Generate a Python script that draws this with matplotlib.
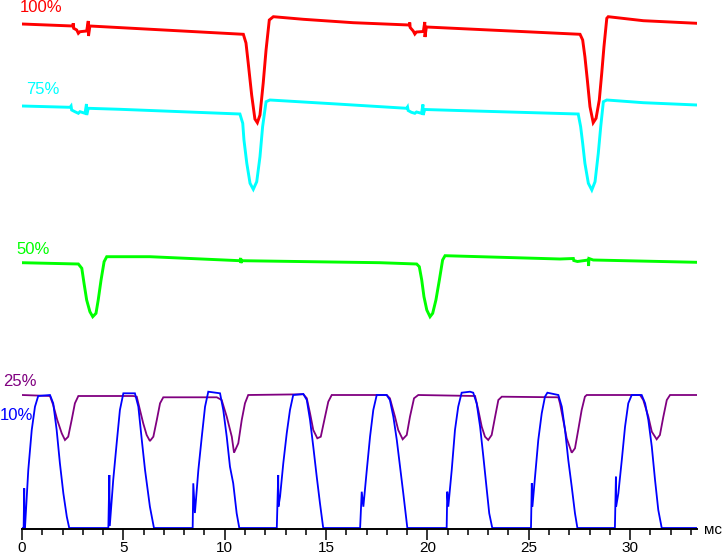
import numpy as np
import matplotlib
matplotlib.use("Agg")
import matplotlib.pyplot as plt
from matplotlib.ticker import MultipleLocator

plt.rcParams["font.family"] = ["Liberation Sans", "DejaVu Sans"]

# ---- traces: time in ms, level in screen units above the time axis ----

red_t = [0, 2.50, 2.53, 2.55, 2.70, 2.78, 2.86, 3.19, 3.27, 3.28, 3.35,
         10.92, 11.05, 11.16, 11.33, 11.49, 11.61, 11.74, 11.90, 12.04, 12.20, 12.40,
         13.88, 16.34, 19.10, 19.13, 19.15, 19.30, 19.38, 19.46, 19.80, 19.87, 19.88, 19.95,
         27.53, 27.66, 27.77, 27.89, 28.02, 28.18, 28.32, 28.48, 28.60, 28.71, 28.85, 28.92,
         30.65, 33.3]
red_v = [504, 502, 504.7, 499.7, 498, 494.7, 496.3, 497, 507, 492, 502,
         493.7, 485, 465, 433, 409, 405.3, 413, 445, 478, 508, 511.3,
         508.7, 505.3, 503, 505.5, 500.5, 497, 494, 496, 496.5, 506, 491, 501,
         493.7, 488, 471.3, 448, 421.3, 405.3, 409.7, 428, 454.7, 481.3, 509.7, 511.3,
         507.3, 504.7]

cyan_t = [0, 2.37, 2.42, 2.45, 2.61, 2.78, 2.86, 3.11, 3.18, 3.19, 3.27, 4.83,
          10.75, 10.89, 10.95, 11.09, 11.25, 11.41, 11.58, 11.74, 11.87, 12.04, 12.23,
          15.53, 18.98, 19.02, 19.05, 19.21, 19.38, 19.46, 19.71, 19.78, 19.79, 19.87, 21.5,
          27.44, 27.56, 27.66, 27.77, 27.94, 28.11, 28.27, 28.43, 28.55, 28.68, 28.85,
          30.65, 33.3]
cyan_v = [422, 420.7, 422, 418, 416.3, 414.7, 416.3, 414.7, 424, 413, 419.7, 418.7,
          414, 404.7, 388, 364.7, 344.7, 338.7, 346.3, 371.3, 401.3, 426.3, 428,
          424, 419.7, 421, 417.5, 415.7, 414.7, 416, 414.7, 423.5, 413, 418.5, 417.5,
          414, 401.3, 384.7, 364.7, 344.7, 338, 346.3, 374.7, 401.3, 426.3, 428,
          425.3, 423]

green_t = [0, 2.78, 2.95, 3.06, 3.19, 3.35, 3.49, 3.65, 3.76, 3.90, 4.05, 4.18,
           6.31, 10.75, 10.79, 10.80, 10.84, 17.66,
           19.47, 19.60, 19.72, 19.83, 19.97, 20.13, 20.26, 20.42, 20.59, 20.75, 20.87,
           22.60, 26.54, 27.20, 27.22, 27.40, 27.94, 27.95, 27.97, 28.18, 33.3]
green_v = [265.3, 264, 259.7, 244.7, 228, 216.3, 211.3, 214.7, 228, 248, 266.3, 271.3,
           271.3, 267.3, 270, 265, 267.3, 265.3,
           264, 261.3, 248, 231.3, 218, 211.3, 214.7, 228, 248, 268, 272.3,
           271.3, 269, 269.5, 267.5, 266.5, 268, 262, 269.5, 268, 265.7]

purple_t = [0, 1.38, 1.54, 1.74, 1.96, 2.12, 2.28, 2.45, 2.61, 2.78,
            5.49, 5.66, 5.82, 5.98, 6.15, 6.31, 6.48, 6.65, 6.81, 6.97,
            9.61, 9.85, 10.10, 10.35, 10.46, 10.67, 10.84, 11.00, 11.16,
            13.88, 14.05, 14.21, 14.37, 14.57, 14.74, 14.95, 15.11, 15.28,
            17.99, 18.15, 18.40, 18.56, 18.78, 18.98, 19.14, 19.34, 19.55,
            22.35, 22.51, 22.68, 22.84, 23.00, 23.17, 23.34, 23.50, 23.67,
            26.46, 26.54, 26.70, 26.87, 27.12, 27.28, 27.44, 27.61, 27.77, 27.86,
            30.49, 30.65, 30.90, 31.07, 31.31, 31.47, 31.64, 31.81, 31.97, 33.3]
purple_v = [133, 132, 123, 108, 94.7, 88, 91.3, 108, 124.7, 132,
            132, 131.3, 118, 104.7, 93, 87, 91.3, 108, 124.7, 130.7,
            130.7, 128, 111.3, 91.3, 75.3, 84.7, 108, 124.7, 133,
            133.7, 129.7, 114.7, 98, 89.7, 91.3, 111.3, 126.3, 133,
            133, 129.7, 111.3, 98, 88.7, 93, 111.3, 129.7, 133,
            132, 118, 101.3, 91.3, 88, 93, 111.3, 128, 131.3,
            130.7, 124.7, 108, 89.7, 75.3, 79.7, 98, 118, 131.3, 133,
            133, 128, 111.3, 96.3, 88.7, 93, 111.3, 128, 133, 133]

blue_t = [0, 0.08, 0.11, 0.12, 0.15, 0.31, 0.48, 0.64, 0.80, 1.38, 1.54, 1.71, 1.87, 2.04, 2.21, 2.33,
          4.26, 4.31, 4.33, 4.50, 4.67, 4.83, 5.00, 5.57, 5.74, 5.91, 6.07, 6.31, 6.51,
          8.42, 8.45, 8.53, 8.70, 8.87, 9.03, 9.19, 9.77, 9.93, 10.10, 10.26, 10.42, 10.59, 10.72,
          12.57, 12.64, 12.65, 12.73, 12.89, 13.06, 13.22, 13.38, 13.88, 14.05, 14.21, 14.37, 14.54, 14.70, 14.86,
          16.68, 16.76, 16.84, 17.01, 17.17, 17.33, 17.50, 17.99, 18.15, 18.32, 18.49, 18.65, 18.81, 19.01,
          20.95, 20.98, 21.03, 21.20, 21.36, 21.52, 21.69, 22.10, 22.26, 22.43, 22.60, 22.76, 22.93, 23.05, 23.20,
          25.11, 25.15, 25.18, 25.31, 25.47, 25.64, 25.80, 25.92, 26.46, 26.63, 26.79, 26.95, 27.12, 27.28, 27.40,
          29.25, 29.30, 29.31, 29.42, 29.59, 29.75, 29.91, 30.08, 30.57, 30.74, 30.90, 31.07, 31.23, 31.39, 31.56,
          33.3]
blue_v = [0, 0, 39.7, 0, 1.3, 58, 98, 121.3, 132, 133, 124.7, 98, 64.7, 34.7, 11.3, 0,
          0, 53, 2, 48, 84.7, 118, 134.7, 134.7, 121.3, 88, 58, 21.3, 0,
          0, 44.7, 15, 58, 91.3, 121.3, 136.3, 134.7, 118, 91.3, 61.3, 44.7, 14.7, 0,
          0, 53, 21.3, 31.3, 64.7, 94.7, 118, 133, 134, 128, 108, 81.3, 51.3, 24.7, 0,
          0, 36.3, 21.3, 58, 91.3, 118, 133, 133, 128, 111.3, 88, 61.3, 34.7, 0,
          0, 36.3, 21.3, 58, 98, 121.3, 135.3, 136.3, 135.3, 124.7, 101.3, 71.3, 38, 14.7, 0,
          0, 44.7, 21.3, 51.3, 88, 114.7, 131.3, 135.3, 133, 121.3, 98, 68, 41.3, 14.7, 0,
          0, 51.3, 21.3, 34.7, 68, 101.3, 124.7, 133, 133, 124.7, 108, 81.3, 48, 18, 0,
          0]

labels = ["100%", "75%", "50%", "25%", "10%"]
label_t = [-0.1, 0.18, -0.3, -0.92, -1.085]
label_v = [521, 438, 279, 146, 113]
colors = ["#ff0000", "#00ffff", "#00ff00", "#800080", "#0000ff"]

major_ticks = [0, 5, 10, 15, 20, 25, 30]

fig = plt.figure(figsize=(7.25, 5.57), dpi=100)
ax = fig.add_axes([22 / 725, 28 / 557, 675 / 725, 529 / 557])

traces = [(red_t, red_v), (cyan_t, cyan_v), (green_t, green_v),
          (purple_t, purple_v), (blue_t, blue_v)]
widths = [2.1, 2.1, 2.1, 1.3, 1.3]
for (t, v), c, w in zip(traces, colors, widths):
    ax.plot(t, v, color=c, lw=w, solid_joinstyle="miter")

for txt, t, v, c in zip(labels, label_t, label_v, colors):
    ax.text(t, v, txt, color=c, fontsize=12, ha="left", va="center")

ax.text(33.65, -2, "мс", fontsize=11, ha="left", va="center", color="black")

ax.set_xlim(0, 33.3)
ax.set_ylim(-1, 528)
for s in ["left", "top", "right"]:
    ax.spines[s].set_visible(False)
ax.spines["bottom"].set_linewidth(1.4)
ax.set_yticks([])
ax.set_xticks(major_ticks)
ax.set_xticklabels([str(m) for m in major_ticks])
ax.xaxis.set_minor_locator(MultipleLocator(1))
ax.tick_params(axis="x", which="major", direction="out", length=8, width=1.1,
               labelsize=11, pad=0.5)
ax.tick_params(axis="x", which="minor", direction="out", length=4, width=1.1)
ax.patch.set_alpha(0)

fig.savefig("out.png", dpi=100, facecolor="white")
